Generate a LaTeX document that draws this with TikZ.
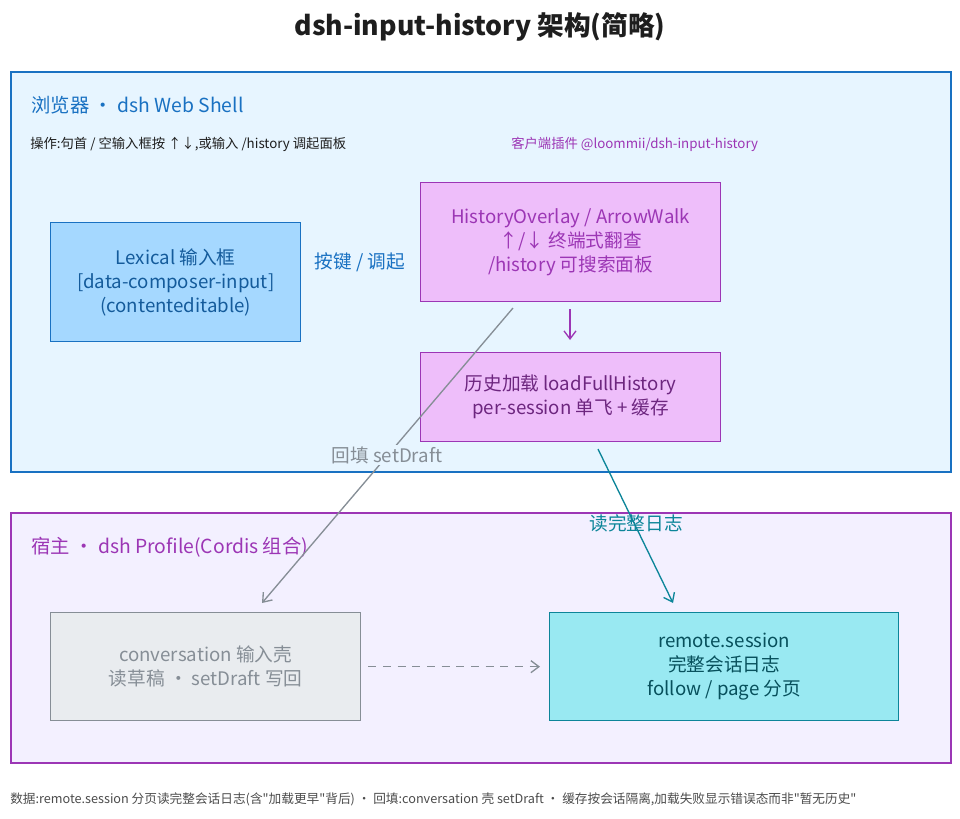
\documentclass[tikz,border=0pt]{standalone}
\usepackage{fontspec}
\setmainfont{Noto Sans CJK SC}
\usetikzlibrary{arrows.meta,calc}
\definecolor{cblue}{HTML}{1971C2}
\definecolor{cbluef}{HTML}{E7F5FF}
\definecolor{lexf}{HTML}{A5D8FF}
\definecolor{cpur}{HTML}{9C36B5}
\definecolor{purf}{HTML}{EEBEFA}
\definecolor{hostf}{HTML}{F3F0FF}
\definecolor{cgray}{HTML}{868E96}
\definecolor{grayf}{HTML}{E9ECEF}
\definecolor{cteal}{HTML}{0C8599}
\definecolor{tealf}{HTML}{99E9F2}
\definecolor{ink}{HTML}{1E1E1E}
\begin{document}
\begin{tikzpicture}[x=0.75pt,y=-0.75pt,
  region/.style={draw,line width=1.2pt,anchor=north west,inner sep=0pt},
  box/.style={draw,line width=1pt,anchor=north west,inner sep=0pt,align=center,font=\fontsize{14}{18}\selectfont},
  lbl/.style={font=\fontsize{14}{16}\selectfont,inner sep=1pt},
  small/.style={font=\fontsize{10}{12}\selectfont,inner sep=0pt,anchor=west},
  arr/.style={line width=1pt,-{Straight Barb[length=6pt,width=9pt]}}]
\useasboundingbox (0,0) rectangle (960,818);
\node[font=\fontsize{20}{24}\selectfont\bfseries,text=ink] (title) at (480,27) {dsh-input-history 架构(简略)};
% browser region
\node[region,draw=cblue,fill=cbluef,minimum width=940*0.75pt,minimum height=400*0.75pt] (browser) at (10,71) {};
\node[lbl,text=cblue,anchor=west,font=\fontsize{14.5}{16}\selectfont] (btitle) at (30,105) {浏览器 · dsh Web Shell};
\node[small,text=ink] (ops) at (30,144) {操作:句首 / 空输入框按 ↑↓,或输入 /history 调起面板};
\node[small,text=cpur] (plug) at (511,144) {客户端插件 @loommii/dsh-input-history};
\node[box,draw=cblue,fill=lexf,text=cblue!80!black,minimum width=250*0.75pt,minimum height=119*0.75pt] (lex) at (50,222) {Lexical 输入框\\{}{[data-composer-input]}\\(contenteditable)};
\node[lbl,text=cblue] (keys) at (360,262) {按键 / 调起};
\node[box,draw=cpur,fill=purf,text=cpur,minimum width=300*0.75pt,minimum height=119*0.75pt] (ho) at (420,182) {HistoryOverlay / ArrowWalk\\↑/↓ 终端式翻查\\/history 可搜索面板};
\node[box,draw=cpur,fill=purf,text=cpur!70!black,minimum width=300*0.75pt,minimum height=89*0.75pt] (load) at (420,352) {历史加载 loadFullHistory\\per-session 单飞 + 缓存};
% host region
\node[region,draw=cpur,fill=hostf,minimum width=940*0.75pt,minimum height=250*0.75pt] (host) at (10,512) {};
\node[lbl,text=cpur,anchor=west,font=\fontsize{14.5}{16}\selectfont] (htitle) at (30,547) {宿主 · dsh Profile(Cordis 组合)};
\node[box,draw=cgray,fill=grayf,text=cgray,minimum width=310*0.75pt,minimum height=108*0.75pt] (conv) at (50,612) {conversation 输入壳\\读草稿 · setDraft 写回};
\node[box,draw=cteal,fill=tealf,text=cteal!60!black,minimum width=349*0.75pt,minimum height=108*0.75pt] (remote) at (549,612) {remote.session\\完整会话日志\\follow / page 分页};
% arrows
\coordinate (hoa) at (570,309);
\coordinate (loadtop) at (570,340);
\draw[arr,draw=cpur] (hoa) -- (loadtop);
\coordinate (gs) at (513,308);
\coordinate (ge) at (262,603);
\draw[arr,draw=cgray] (gs) -- (ge);
\node[lbl,text=cgray,fill=cbluef] (fill) at (387,455) {回填 setDraft};
\coordinate (ts) at (598,449);
\coordinate (te) at (673,603);
\draw[arr,draw=cteal] (ts) -- (te);
\node[lbl,text=cteal] (readl) at (636,523) {读完整日志};
\draw[arr,draw=cgray,dashed,dash pattern=on 6pt off 5pt] ($(conv.east)+(7,0)$) -- ($(remote.west)+(-9,0)$);
\node[small,text=ink!80,font=\fontsize{9.5}{11}\selectfont] (foot) at (10,799) {数据:remote.session 分页读完整会话日志(含\textquotedbl 加载更早\textquotedbl 背后) · 回填:conversation 壳 setDraft · 缓存按会话隔离,加载失败显示错误态而非\textquotedbl 暂无历史\textquotedbl};
\end{tikzpicture}
\end{document}
